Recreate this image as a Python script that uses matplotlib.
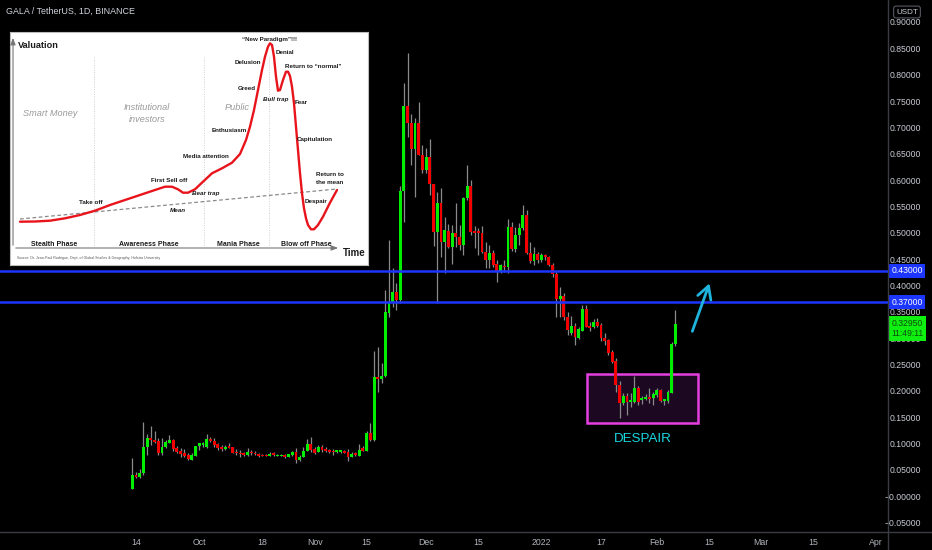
import matplotlib
matplotlib.use("Agg")
import matplotlib.pyplot as plt
import matplotlib.dates as mdates
import matplotlib.transforms as mtransforms
from matplotlib.patches import Rectangle
import numpy as np
import pandas as pd

# ---------------- data ----------------
start_date = "2021-09-13"
opens = [0.016, 0.042, 0.039, 0.046, 0.095, 0.113, 0.109, 0.107, 0.084, 0.095,
         0.103, 0.109, 0.094, 0.088, 0.084, 0.080, 0.071, 0.078, 0.097, 0.099,
         0.095, 0.111, 0.107, 0.101, 0.095, 0.092, 0.095, 0.095, 0.086, 0.084,
         0.084, 0.080, 0.086, 0.084, 0.082, 0.080, 0.080, 0.078, 0.084, 0.078,
         0.078, 0.080, 0.077, 0.080, 0.086, 0.071, 0.077, 0.088, 0.101, 0.092,
         0.086, 0.095, 0.092, 0.090, 0.088, 0.086, 0.086, 0.088, 0.086, 0.077,
         0.084, 0.078, 0.094, 0.088, 0.122, 0.109, 0.228, 0.224, 0.230, 0.350,
         0.369, 0.390, 0.374, 0.581, 0.743, 0.710, 0.661, 0.710, 0.650, 0.621,
         0.646, 0.595, 0.504, 0.558, 0.485, 0.505, 0.475, 0.502, 0.494, 0.479,
         0.568, 0.591, 0.505, 0.504, 0.502, 0.466, 0.450, 0.464, 0.443, 0.428,
         0.439, 0.437, 0.513, 0.471, 0.498, 0.511, 0.536, 0.464, 0.448, 0.462,
         0.450, 0.460, 0.456, 0.441, 0.424, 0.376, 0.382, 0.342, 0.312, 0.325,
         0.302, 0.316, 0.357, 0.325, 0.323, 0.333, 0.327, 0.302, 0.298, 0.276,
         0.259, 0.213, 0.179, 0.192, 0.181, 0.181, 0.207, 0.185, 0.187, 0.190,
         0.188, 0.194, 0.204, 0.183, 0.183, 0.198, 0.291]
highs = [0.075, 0.048, 0.054, 0.143, 0.120, 0.135, 0.126, 0.113, 0.113, 0.109,
         0.118, 0.111, 0.097, 0.094, 0.092, 0.084, 0.084, 0.097, 0.103, 0.105,
         0.120, 0.114, 0.113, 0.103, 0.099, 0.099, 0.103, 0.095, 0.092, 0.090,
         0.086, 0.094, 0.090, 0.088, 0.084, 0.082, 0.082, 0.086, 0.086, 0.082,
         0.082, 0.082, 0.082, 0.088, 0.094, 0.080, 0.095, 0.111, 0.114, 0.095,
         0.099, 0.099, 0.095, 0.092, 0.092, 0.090, 0.090, 0.090, 0.092, 0.086,
         0.086, 0.101, 0.097, 0.126, 0.141, 0.278, 0.285, 0.255, 0.393, 0.488,
         0.435, 0.407, 0.591, 0.786, 0.843, 0.727, 0.720, 0.750, 0.669, 0.663,
         0.680, 0.595, 0.579, 0.587, 0.532, 0.519, 0.517, 0.558, 0.517, 0.570,
         0.631, 0.602, 0.515, 0.511, 0.515, 0.485, 0.479, 0.469, 0.450, 0.443,
         0.450, 0.528, 0.522, 0.513, 0.521, 0.555, 0.545, 0.485, 0.475, 0.466,
         0.464, 0.462, 0.458, 0.445, 0.428, 0.399, 0.388, 0.352, 0.344, 0.331,
         0.323, 0.365, 0.365, 0.333, 0.338, 0.340, 0.331, 0.312, 0.300, 0.280,
         0.264, 0.221, 0.198, 0.198, 0.198, 0.230, 0.211, 0.192, 0.196, 0.207,
         0.200, 0.207, 0.206, 0.187, 0.204, 0.295, 0.355]
lows = [0.016, 0.037, 0.037, 0.042, 0.080, 0.099, 0.103, 0.080, 0.080, 0.094,
        0.103, 0.088, 0.084, 0.077, 0.077, 0.071, 0.071, 0.078, 0.090, 0.095,
        0.094, 0.105, 0.095, 0.090, 0.088, 0.090, 0.094, 0.084, 0.080, 0.077,
        0.078, 0.078, 0.080, 0.080, 0.077, 0.078, 0.078, 0.078, 0.078, 0.078,
        0.078, 0.075, 0.077, 0.078, 0.065, 0.069, 0.077, 0.088, 0.086, 0.082,
        0.086, 0.086, 0.086, 0.084, 0.080, 0.084, 0.084, 0.084, 0.069, 0.077,
        0.078, 0.078, 0.088, 0.088, 0.107, 0.107, 0.200, 0.217, 0.228, 0.342,
        0.361, 0.355, 0.369, 0.522, 0.684, 0.631, 0.570, 0.650, 0.615, 0.615,
        0.574, 0.477, 0.369, 0.456, 0.425, 0.473, 0.443, 0.475, 0.469, 0.460,
        0.564, 0.498, 0.473, 0.460, 0.463, 0.435, 0.435, 0.437, 0.409, 0.426,
        0.428, 0.426, 0.467, 0.466, 0.479, 0.507, 0.462, 0.445, 0.441, 0.445,
        0.447, 0.450, 0.439, 0.418, 0.342, 0.342, 0.336, 0.308, 0.308, 0.289,
        0.300, 0.316, 0.323, 0.316, 0.321, 0.323, 0.297, 0.289, 0.270, 0.255,
        0.200, 0.150, 0.175, 0.156, 0.171, 0.179, 0.175, 0.177, 0.185, 0.179,
        0.175, 0.190, 0.181, 0.175, 0.179, 0.198, 0.287]
closes = [0.042, 0.039, 0.046, 0.095, 0.113, 0.109, 0.105, 0.084, 0.095, 0.105,
          0.109, 0.092, 0.086, 0.082, 0.078, 0.073, 0.080, 0.097, 0.103, 0.103,
          0.111, 0.107, 0.099, 0.094, 0.092, 0.095, 0.094, 0.084, 0.084, 0.082,
          0.080, 0.086, 0.084, 0.082, 0.078, 0.078, 0.078, 0.082, 0.080, 0.080,
          0.080, 0.077, 0.082, 0.086, 0.071, 0.077, 0.088, 0.101, 0.090, 0.084,
          0.095, 0.090, 0.088, 0.086, 0.086, 0.090, 0.090, 0.084, 0.077, 0.082,
          0.080, 0.090, 0.088, 0.122, 0.109, 0.228, 0.224, 0.230, 0.352, 0.369,
          0.390, 0.374, 0.581, 0.743, 0.710, 0.661, 0.710, 0.650, 0.621, 0.646,
          0.595, 0.504, 0.558, 0.485, 0.507, 0.475, 0.502, 0.494, 0.479, 0.568,
          0.591, 0.504, 0.502, 0.502, 0.466, 0.450, 0.464, 0.441, 0.428, 0.441,
          0.437, 0.513, 0.471, 0.498, 0.511, 0.536, 0.464, 0.448, 0.462, 0.450,
          0.460, 0.456, 0.441, 0.424, 0.376, 0.382, 0.342, 0.318, 0.325, 0.304,
          0.319, 0.357, 0.323, 0.321, 0.333, 0.325, 0.302, 0.297, 0.274, 0.257,
          0.213, 0.179, 0.192, 0.181, 0.185, 0.207, 0.181, 0.188, 0.190, 0.187,
          0.196, 0.204, 0.183, 0.187, 0.200, 0.291, 0.3295]

levels = [0.43, 0.37]
level_labels = ["0.43000", "0.37000"]
last_price_label = "0.32950"
countdown_label = "11:49:11"

price_ticks = [0.90, 0.85, 0.80, 0.75, 0.70, 0.65, 0.60, 0.55, 0.50, 0.45,
               0.40, 0.35, 0.30, 0.25, 0.20, 0.15, 0.10, 0.05, 0.0, -0.05]
price_tick_labels = ["0.90000", "0.85000", "0.80000", "0.75000", "0.70000",
                     "0.65000", "0.60000", "0.55000", "0.50000", "0.45000",
                     "0.40000", "0.35000", "0.30000", "0.25000", "0.20000",
                     "0.15000", "0.10000", "0.05000", "\u22120.00000", "\u22120.05000"]

date_ticks = ["2021-09-14", "2021-10-01", "2021-10-18", "2021-11-01", "2021-11-15",
              "2021-12-01", "2021-12-15", "2022-01-01", "2022-01-17", "2022-02-01",
              "2022-02-15", "2022-03-01", "2022-03-15", "2022-04-01"]
date_tick_labels = ["14", "Oct", "18", "Nov", "15", "Dec", "15", "2022", "17",
                    "Feb", "15", "Mar", "15", "Apr"]

# despair box (dates / prices) and arrow
box_start, box_end = "2022-01-13 05:00", "2022-02-12 02:00"
box_low, box_high = 0.141, 0.234
arrow_tail = ("2022-02-10 07:00", 0.310)
arrow_tip = ("2022-02-15 10:00", 0.411)

# inset illustration (market cycle), coordinates in inset pixel space
curve_x = [20, 35, 50, 65, 80, 95, 110, 125, 140, 155, 165, 172, 178, 183, 188,
           195, 203, 212, 222, 232, 240, 246, 250, 254, 258, 262, 265, 268, 270,
           272, 274, 276, 278, 280, 283, 286, 288, 290, 292, 294, 296, 298, 300,
           302, 304, 306, 308, 311, 314, 318, 323, 330, 337]
curve_y = [221.7, 221.5, 220.7, 218.3, 215, 210.7, 205, 200, 195, 190, 186.7,
           186.7, 189.3, 192.7, 192.7, 189.3, 181.7, 173.3, 168.3, 162.7, 154,
           140, 126.7, 110, 90, 70, 56.7, 46.7, 43.3, 45, 56.7, 76.7, 90.7, 90,
           80, 71.7, 71.7, 76, 86.7, 103.3, 126.7, 150, 173.3, 193.3, 208.3,
           218.3, 225, 229.3, 229.3, 225, 216.7, 202.7, 190]
mean_x = [20, 337]
mean_y = [219, 189]

# ---------------- styling ----------------
BG = "#000000"
GREEN = "#00ee00"
RED = "#f20000"
WICK = "#8a8a8a"
BLUE = "#1c35ff"
TXT = "#d1d4dc"
FONT = ["Liberation Sans", "DejaVu Sans"]

W, H = 932, 550
fig = plt.figure(figsize=(W / 100, H / 100), dpi=100, facecolor=BG)

# main axes: pixel x 0..888, y 0..532
ax = fig.add_axes([0, (H - 532) / H, 888 / W, 532 / H])
ax.set_facecolor(BG)

dates = pd.date_range(start_date, periods=len(opens), freq="D")
xn = mdates.date2num(dates)
o = np.array(opens); h = np.array(highs); l = np.array(lows); c = np.array(closes)
up = c >= o
colors = np.where(up, GREEN, RED)

ax.vlines(xn, l, h, color=WICK, linewidth=0.9, zorder=2)
body_bottom = np.minimum(o, c)
body_height = np.maximum(np.abs(c - o), 0.0025)
ax.bar(xn, body_height, bottom=body_bottom, width=0.78, color=colors,
       edgecolor="none", zorder=3)

x0 = mdates.date2num(pd.Timestamp(start_date))
ax.set_xlim(x0 - 35.56, x0 + 203.15)
ax.set_ylim(-0.0658, 0.9436)

for lv in levels:
    ax.axhline(lv, color=BLUE, linewidth=1.8, zorder=4)

# despair box
bx0 = mdates.date2num(pd.Timestamp(box_start))
bx1 = mdates.date2num(pd.Timestamp(box_end))
ax.add_patch(Rectangle((bx0, box_low), bx1 - bx0, box_high - box_low,
                       facecolor="#1c0820", edgecolor="#e53fe0", linewidth=1.8,
                       zorder=1))
ax.text((bx0 + bx1) / 2, 0.111, "DESPAIR", color="#19d8e0", fontsize=9.6,
        family=FONT, ha="center", va="center", zorder=5)

ax.annotate("", xy=(mdates.date2num(pd.Timestamp(arrow_tip[0])), arrow_tip[1]),
            xytext=(mdates.date2num(pd.Timestamp(arrow_tail[0])), arrow_tail[1]),
            arrowprops=dict(arrowstyle="->,head_length=0.9,head_width=0.5",
                            color="#1fb4de", linewidth=2.0), zorder=6)

# axes styling
for s in ax.spines.values():
    s.set_visible(False)
ax.set_yticks([])
ax.set_xticks(mdates.date2num(pd.to_datetime(date_ticks)))
ax.set_xticklabels(date_tick_labels, family=FONT, fontsize=6.3, color="#b2b5be")
ax.tick_params(axis="x", length=0, pad=4.5)

# separators
fig.add_artist(plt.Line2D([0, 1], [(H - 532) / H] * 2, color="#3a3c44",
                          linewidth=1.0, transform=fig.transFigure))
fig.add_artist(plt.Line2D([888 / W] * 2, [0, 1], color="#3a3c44",
                          linewidth=1.0, transform=fig.transFigure))

# price axis labels
trans = mtransforms.blended_transform_factory(fig.transFigure, ax.transData)
for v, lab in zip(price_ticks, price_tick_labels):
    ax.text(921 / W, v, lab, transform=trans, ha="right", va="center",
            fontsize=6.2, family=FONT, color="#c9ccd4", clip_on=False)

for lv, lab in zip(levels, level_labels):
    ax.text(907 / W, lv, lab, transform=trans, ha="center", va="center",
            fontsize=6.2, family=FONT, color="white", clip_on=False, zorder=10,
            bbox=dict(boxstyle="square,pad=0.3", facecolor=BLUE, edgecolor="none"))

ax.text(907 / W, closes[-1] - 0.009, last_price_label + "\n" + countdown_label,
        transform=trans, ha="center", va="center", fontsize=6.2, family=FONT,
        color="#0d4a0d", linespacing=1.05, clip_on=False, zorder=10,
        bbox=dict(boxstyle="square,pad=0.35", facecolor="#10f010", edgecolor="none"))

fig.text(907 / W, 1 - 12 / H, "USDT", ha="center", va="center", fontsize=5.8,
         family=FONT, color="#c9ccd4",
         bbox=dict(boxstyle="round,pad=0.3,rounding_size=0.3", facecolor=BG,
                   edgecolor="#555862", linewidth=0.8))

fig.text(6 / W, 1 - 11 / H, "GALA / TetherUS, 1D, BINANCE", ha="left",
         va="center", fontsize=6.4, family=FONT, color=TXT)

# ---------------- inset illustration ----------------
ax2 = fig.add_axes([10 / W, (H - 265) / H, 358 / W, 233 / H])
ax2.set_facecolor("white")
ax2.set_xlim(10, 368)
ax2.set_ylim(265, 32)
ax2.set_xticks([]); ax2.set_yticks([])
for s in ax2.spines.values():
    s.set_color("#bdbdbd"); s.set_linewidth(0.8)

ax2.annotate("", xy=(13, 35), xytext=(13, 248),
             arrowprops=dict(arrowstyle="-|>,head_length=0.4,head_width=0.15",
                             color="#777777", linewidth=0.8))
ax2.annotate("", xy=(341, 248), xytext=(13, 248),
             arrowprops=dict(arrowstyle="-|>,head_length=0.4,head_width=0.15",
                             color="#777777", linewidth=0.8))
for sx in [94, 204, 269]:
    ax2.plot([sx, sx], [57, 246], color="#cfcfcf", linestyle=(0, (1, 1.5)),
             linewidth=0.7)
ax2.plot(mean_x, mean_y, color="#8a8a8a", linestyle=(0, (3, 2)), linewidth=0.9)
ax2.plot(curve_x, curve_y, color="#e8141c", linewidth=1.7, solid_capstyle="round")

def itxt(x, y, s, size=4.5, style="normal", weight="bold", color="#1a1a1a",
         ha="center"):
    ax2.text(x, y, s, fontsize=size, fontstyle=style, fontweight=weight,
             color=color, ha=ha, va="center", family=FONT)

itxt(18, 45, "Valuation", size=6.6, ha="left")
itxt(343, 253, "Time", size=7.0, ha="left")
itxt(50, 113, "Smart Money", size=6.6, style="italic", weight="normal", color="#9a9a9a")
itxt(147, 107, "Institutional", size=6.6, style="italic", weight="normal", color="#9a9a9a")
itxt(147, 120, "investors", size=6.6, style="italic", weight="normal", color="#9a9a9a")
itxt(237, 107, "Public", size=6.6, style="italic", weight="normal", color="#9a9a9a")
itxt(54, 244, "Stealth Phase", size=5.0)
itxt(149, 244, "Awareness Phase", size=5.0)
itxt(238, 244, "Mania Phase", size=5.0)
itxt(306, 244, "Blow off Phase", size=5.0)
itxt(91, 203, "Take off")
itxt(169, 180, "First Sell off")
itxt(206, 194, "Bear trap", style="italic")
itxt(178, 211, "Mean", style="italic")
itxt(206, 157, "Media attention")
itxt(229, 131, "Enthusiasm")
itxt(247, 88, "Greed")
itxt(248, 62, "Delusion")
itxt(270, 39, "\u201cNew Paradigm\u201d!!!")
itxt(285, 53, "Denial")
itxt(313, 67, "Return to \u201cnormal\u201d")
itxt(276, 99, "Bull trap", style="italic")
itxt(301, 103, "Fear")
itxt(315, 139, "Capitulation")
itxt(330, 174, "Return to")
itxt(330, 183, "the mean")
itxt(316, 201, "Despair")
itxt(17, 258, "Source: Dr. Jean-Paul Rodrigue, Dept. of Global Studies & Geography, Hofstra University",
     size=2.6, weight="normal", color="#555555", ha="left")

fig.savefig("out.png", dpi=100, facecolor=BG)
